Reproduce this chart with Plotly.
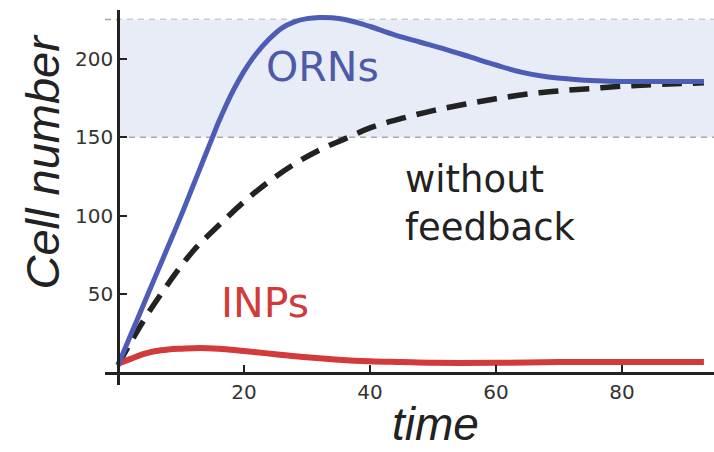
import plotly.graph_objects as go

# ---- data ----
orn_t = [0, 2, 4, 6, 8, 10, 12, 14, 15, 16, 17, 18, 19, 20, 22, 24, 26, 28, 30, 32, 34, 36,
         38, 40, 44, 48, 52, 56, 60, 64, 68, 72, 76, 80, 84, 88, 93]
orn_y = [5, 24, 43, 62, 81, 100, 120, 140, 150, 160, 169, 177.5, 185, 192, 203.5, 212.5, 219.5, 223.5, 225.5, 226.2, 226, 225,
         223, 220.5, 215, 210.5, 206, 201, 196, 191.5, 188.5, 187, 186, 185.5, 185.5, 185.5, 185.5]

nofb_t = [0, 4, 8, 12, 16, 20, 24, 28, 32, 36, 40, 45, 50, 55, 60, 65, 70, 75, 80, 85, 93]
nofb_y = [5, 33, 57, 78, 94, 109, 122, 133, 142, 149, 156, 162, 167, 171, 174.5, 177.5, 179.5, 181, 182.5, 183.5, 184.7]

inp_t = [0, 2, 4, 6, 8, 10, 13, 16, 20, 25, 30, 35, 40, 45, 50, 60, 70, 80, 93]
inp_y = [6, 9, 12, 14, 15, 15.5, 16, 15.5, 14, 12, 10, 8.5, 7.5, 7, 6.5, 6.5, 7, 7, 7]

x_ticks = [20, 40, 60, 80]
y_ticks = [50, 100, 150, 200]
band = [150, 225]

x_range = [-2.06, 94.6]
y_range = [-7.6, 231]

FONT = "Liberation Sans, Arial, sans-serif"
WIDE = "DejaVu Sans, sans-serif"
AX = "#222222"

fig = go.Figure()

fig.add_trace(go.Scatter(x=nofb_t, y=nofb_y, mode="lines",
                         line=dict(color="#222222", width=5.5, dash="20px,11px", shape="spline"),
                         hoverinfo="skip"))
fig.add_trace(go.Scatter(x=inp_t, y=inp_y, mode="lines",
                         line=dict(color="#d23b3b", width=6, shape="spline"),
                         hoverinfo="skip"))
fig.add_trace(go.Scatter(x=orn_t, y=orn_y, mode="lines",
                         line=dict(color="#4d5cb5", width=5, shape="spline"),
                         hoverinfo="skip"))

# shaded target band with dashed edges
fig.add_shape(type="rect", xref="x", yref="y", x0=0, x1=x_range[1], y0=band[0], y1=band[1],
              fillcolor="#e7ecf7", line=dict(width=0), layer="below")
fig.add_shape(type="line", xref="paper", yref="y", x0=0, x1=1, y0=band[1], y1=band[1],
              line=dict(color="#a8a8a8", width=1.6, dash="6px,5px"), layer="below")
fig.add_shape(type="line", xref="x", yref="y", x0=0, x1=x_range[1], y0=band[0], y1=band[0],
              line=dict(color="#a8a8a8", width=1.6, dash="6px,5px"), layer="below")

# labels
fig.add_annotation(x=32.5, y=194.6, text="ORNs", showarrow=False,
                   font=dict(family=WIDE, size=41, color="#4c5aa8"))
fig.add_annotation(x=45.2, y=108, text="without<br>feedback", showarrow=False, align="left",
                   xanchor="left",
                   font=dict(family=WIDE, size=37, color="#222222"))
fig.add_annotation(x=23.3, y=44.3, text="INPs", showarrow=False,
                   font=dict(family=WIDE, size=41, color="#d23b3b"))
fig.add_annotation(xref="paper", yref="paper", x=-0.1034, y=0.596, text="<i>Cell number</i>",
                   textangle=-90, showarrow=False, xanchor="center", yanchor="middle",
                   font=dict(family=FONT, size=47, color="#222222"))
fig.add_annotation(xref="paper", yref="paper", x=0.542, y=-0.178, text="<i>time</i>",
                   showarrow=False, xanchor="center", yanchor="bottom",
                   font=dict(family=FONT, size=46, color="#222222"))

fig.update_layout(
    width=714, height=452,
    margin=dict(l=105, r=0, t=10, b=67),
    paper_bgcolor="white", plot_bgcolor="white",
    showlegend=False,
    xaxis=dict(range=x_range, showgrid=False, zeroline=False,
               showline=True, linecolor=AX, linewidth=2.5,
               anchor="free", position=(0 - y_range[0]) / (y_range[1] - y_range[0]),
               ticks="inside", ticklen=7, tickwidth=2, tickcolor=AX,
               tickvals=x_ticks, tickfont=dict(family=WIDE, size=20, color="#333333")),
    yaxis=dict(range=y_range, showgrid=False, zeroline=False,
               showline=True, linecolor=AX, linewidth=2.5,
               anchor="free", position=(0 - x_range[0]) / (x_range[1] - x_range[0]),
               ticks="inside", ticklen=7, tickwidth=2, tickcolor=AX,
               tickvals=y_ticks, tickfont=dict(family=WIDE, size=20, color="#333333")),
)

fig.write_html("out.html")
